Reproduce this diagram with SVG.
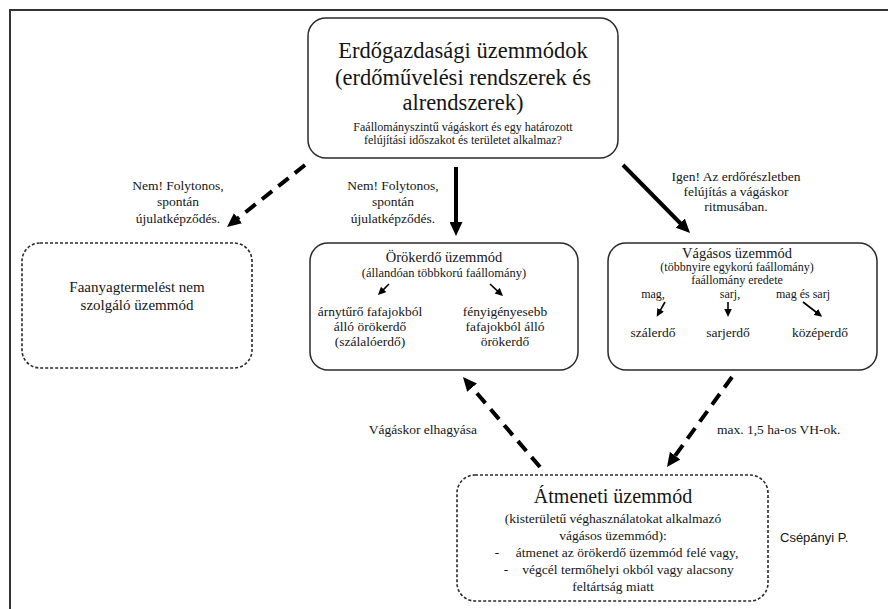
<svg xmlns="http://www.w3.org/2000/svg" width="888" height="609" viewBox="0 0 888 609">
<style>
text{font-family:"Liberation Serif","Times New Roman",serif;fill:#151515;text-anchor:middle}
.box{fill:#fff;stroke:#2a2a2a;stroke-width:1.5}
.dbox{fill:#fff;stroke:#2a2a2a;stroke-width:1.6;stroke-dasharray:3 2}
.thick{stroke:#000;stroke-width:4;fill:none}
.dash{stroke-dasharray:13 8}
.thin{stroke:#000;stroke-width:1.6;fill:none}
.t22{font-size:22.5px}
.t20{font-size:20px}
.t15{font-size:15px}
.t14{font-size:14.5px}
.t13{font-size:13.5px}
.t12{font-size:12.5px}
.t11{font-size:12px}
.sans{font-family:"Liberation Sans",Arial,sans-serif;font-size:13px;text-anchor:start}
</style>
<defs>
<marker id="ah" markerUnits="userSpaceOnUse" markerWidth="15" markerHeight="13" refX="2" refY="6.5" orient="auto">
<path d="M0,0 L14,6.5 L0,13 z" fill="#000"/>
</marker>
<marker id="ahs" markerUnits="userSpaceOnUse" markerWidth="9" markerHeight="8" refX="1" refY="3.75" orient="auto">
<path d="M0,0 L8,3.75 L0,7.5 z" fill="#000"/>
</marker>
</defs>
<rect width="888" height="609" fill="#fff"/>
<g id="frame">
<path d="M10,609 V10 H888" fill="none" stroke="#333" stroke-width="2"/>
</g>
<g id="connectors">
<line class="thick dash" x1="305" y1="165" x2="236.4" y2="219.5" marker-end="url(#ah)"/>
<line class="thick" x1="456" y1="167" x2="456" y2="224" marker-end="url(#ah)"/>
<line class="thick" x1="623" y1="165" x2="681.6" y2="224.5" marker-end="url(#ah)"/>
<line class="thick dash" x1="540" y1="467" x2="470.8" y2="386.1" marker-end="url(#ah)"/>
<line class="thick dash" x1="732" y1="377" x2="674" y2="457.3" marker-end="url(#ah)"/>
<text class="t13" x="178" y="190">Nem! Folytonos,</text>
<text class="t13" x="178" y="206">spontán</text>
<text class="t13" x="178" y="223">újulatképződés.</text>
<text class="t13" x="393" y="190">Nem! Folytonos,</text>
<text class="t13" x="393" y="206">spontán</text>
<text class="t13" x="393" y="223">újulatképződés.</text>
<text class="t13" x="736" y="181">Igen! Az erdőrészletben</text>
<text class="t13" x="736" y="196">felújítás a vágáskor</text>
<text class="t13" x="736" y="211">ritmusában.</text>
<text class="t13" x="477" y="434" style="text-anchor:end">Vágáskor elhagyása</text>
<text class="t13" x="717" y="434" style="text-anchor:start">max. 1,5 ha-os VH-ok.</text>
</g>
<g id="node-top">
<rect class="box" x="308" y="18" width="310" height="140" rx="18"/>
<text class="t22" x="463" y="58">Erdőgazdasági üzemmódok</text>
<text class="t22" x="463" y="85">(erdőművelési rendszerek és</text>
<text class="t22" x="463" y="110">alrendszerek)</text>
<text class="t11" x="463" y="131">Faállományszintű vágáskort és egy határozott</text>
<text class="t11" x="463" y="144">felújítási időszakot és területet alkalmaz?</text>
</g>
<g id="node-faanyag">
<rect class="dbox" x="22" y="243" width="230" height="125" rx="18"/>
<text class="t15" x="137" y="292">Faanyagtermelést nem</text>
<text class="t15" x="137" y="310">szolgáló üzemmód</text>
</g>
<g id="node-orokerdo">
<rect class="box" x="310" y="243" width="268" height="127" rx="18"/>
<text class="t14" x="444" y="262">Örökerdő üzemmód</text>
<text class="t12" x="444" y="277">(állandóan többkorú faállomány)</text>
<line class="thin" x1="389" y1="284" x2="382.9" y2="290.1" marker-end="url(#ahs)"/>
<line class="thin" x1="490" y1="284" x2="497.9" y2="291.3" marker-end="url(#ahs)"/>
<text class="t13" x="370" y="316">árnytűrő fafajokból</text>
<text class="t13" x="370" y="331">álló örökerdő</text>
<text class="t13" x="370" y="346">(szálalóerdő)</text>
<text class="t13" x="505" y="316">fényigényesebb</text>
<text class="t13" x="505" y="331">fafajokból álló</text>
<text class="t13" x="505" y="346">örökerdő</text>
</g>
<g id="node-vagasos">
<rect class="box" x="608" y="243" width="269" height="127" rx="18"/>
<text class="t14" x="737" y="258">Vágásos üzemmód</text>
<text class="t11" x="737" y="271">(többnyire egykorú faállomány)</text>
<text class="t11" x="737" y="284">faállomány eredete</text>
<text class="t11" x="653" y="298">mag,</text>
<text class="t11" x="730" y="298">sarj,</text>
<text class="t11" x="803" y="298">mag és sarj</text>
<line class="thin" x1="665" y1="302" x2="660.1" y2="310.7" marker-end="url(#ahs)"/>
<line class="thin" x1="728" y1="302" x2="728" y2="310" marker-end="url(#ahs)"/>
<line class="thin" x1="803" y1="302" x2="816.6" y2="312.5" marker-end="url(#ahs)"/>
<text class="t13" x="653" y="337">szálerdő</text>
<text class="t13" x="728" y="337">sarjerdő</text>
<text class="t13" x="820" y="337">középerdő</text>
</g>
<g id="node-atmeneti">
<rect class="dbox" x="457" y="475" width="311" height="126" rx="18"/>
<text class="t20" x="613" y="503">Átmeneti üzemmód</text>
<text class="t13" x="613" y="523">(kisterületű véghasználatokat alkalmazó</text>
<text class="t13" x="613" y="540">vágásos üzemmód):</text>
<text class="t13" x="497" y="557">-</text>
<text class="t13" x="627" y="557">átmenet az örökerdő üzemmód felé vagy,</text>
<text class="t13" x="506" y="574">-</text>
<text class="t13" x="628" y="574">végcél termőhelyi okból vagy alacsony</text>
<text class="t13" x="613" y="591">feltártság miatt</text>
</g>
<g id="credit">
<text class="sans" x="780" y="542">Csépányi P.</text>
</g>
</svg>
